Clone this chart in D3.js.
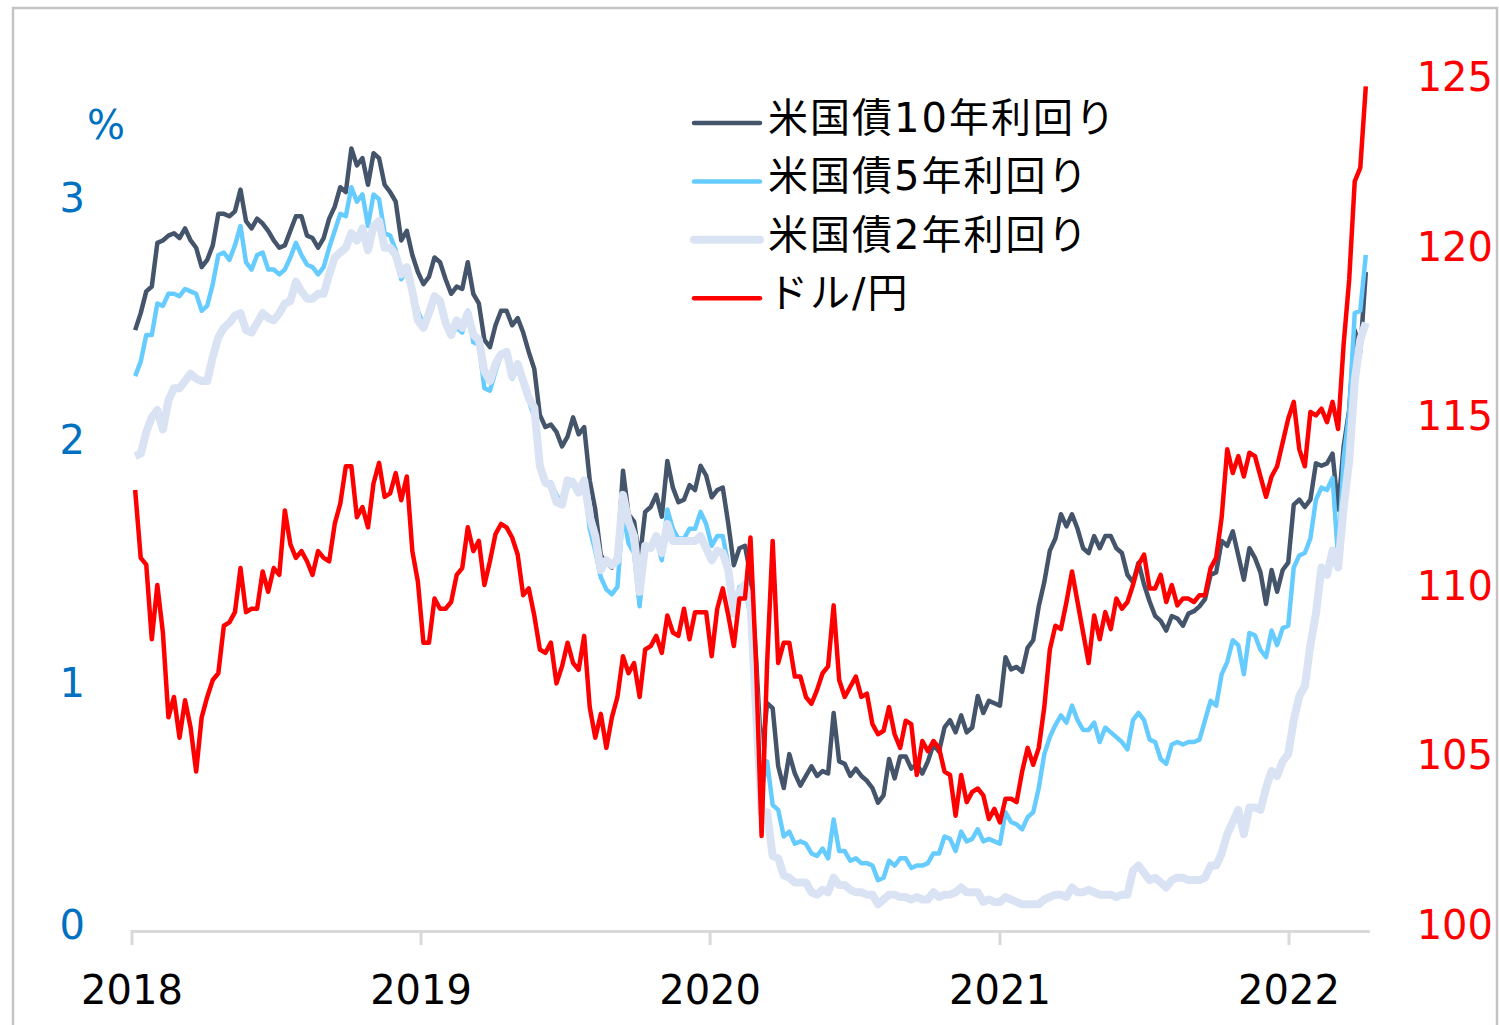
<!DOCTYPE html>
<html>
<head>
<meta charset="utf-8">
<title>米国債利回りとドル/円</title>
<script src="https://d3js.org/d3.v7.min.js"></script>
<style>
body {
	margin: 0;
	background: #fff;
}
.axis-label {
	font-family: "DejaVu Sans", sans-serif;
	font-size: 40px;
}
.legend text {
	font-family: "DejaVu Sans", "Noto Sans CJK JP", sans-serif;
	font-size: 40px;
	letter-spacing: 2px;
	fill: #000;
}
.series {
	fill: none;
	stroke-linejoin: round;
}
</style>
</head>
<body>
<svg id="chart" width="1499" height="1025"></svg>
<script>
// weekly (Friday) readings, 2018-01-05 .. 2022-04-08
var weeks = d3.timeFriday.range(new Date(2018, 0, 1), new Date(2022, 3, 9));

var us10y = [
	2.48, 2.55, 2.64, 2.66, 2.84, 2.85, 2.87, 2.88, 2.86, 2.90, 2.85, 2.82, 2.74, 2.77, 2.83, 2.96, 2.96, 2.95, 2.97, 3.06, 2.93, 2.90, 2.94, 2.92, 2.89, 2.85,
	2.82, 2.83, 2.89, 2.95, 2.95, 2.87, 2.86, 2.82, 2.86, 2.94, 2.99, 3.07, 3.05, 3.23, 3.16, 3.19, 3.08, 3.21, 3.19, 3.08, 3.05, 3.01, 2.85, 2.89, 2.79, 2.72,
	2.67, 2.70, 2.78, 2.76, 2.69, 2.63, 2.66, 2.65, 2.76, 2.63, 2.59, 2.44, 2.41, 2.50, 2.56, 2.56, 2.50, 2.53, 2.47, 2.39, 2.32, 2.13, 2.08, 2.09, 2.06, 2.00,
	2.04, 2.12, 2.05, 2.08, 1.86, 1.74, 1.55, 1.52, 1.50, 1.55, 1.90, 1.72, 1.69, 1.53, 1.73, 1.75, 1.80, 1.71, 1.94, 1.83, 1.77, 1.78, 1.84, 1.82, 1.92, 1.88,
	1.79, 1.82, 1.83, 1.68, 1.51, 1.58, 1.59, 1.47, 1.13, 0.71, 0.94, 0.92, 0.68, 0.59, 0.73, 0.65, 0.60, 0.64, 0.68, 0.64, 0.66, 0.65, 0.90, 0.70, 0.69, 0.64,
	0.67, 0.64, 0.62, 0.59, 0.53, 0.56, 0.71, 0.63, 0.72, 0.72, 0.67, 0.69, 0.65, 0.70, 0.77, 0.74, 0.84, 0.87, 0.82, 0.89, 0.82, 0.84, 0.97, 0.90, 0.95, 0.94,
	0.93, 1.13, 1.08, 1.09, 1.07, 1.17, 1.20, 1.34, 1.44, 1.57, 1.62, 1.72, 1.67, 1.72, 1.66, 1.58, 1.56, 1.63, 1.58, 1.63, 1.63, 1.58, 1.56, 1.47, 1.44, 1.52, 1.43,
	1.36, 1.30, 1.28, 1.24, 1.30, 1.29, 1.26, 1.31, 1.32, 1.34, 1.37, 1.47, 1.48, 1.61, 1.59, 1.65, 1.55, 1.45, 1.58, 1.54, 1.48, 1.35, 1.49, 1.40, 1.49, 1.52,
	1.76, 1.78, 1.75, 1.78, 1.93, 1.92, 1.93, 1.97, 1.74, 2.00, 2.15, 2.48, 2.39, 2.72
];

var us5y = [
	2.29, 2.35, 2.46, 2.46, 2.59, 2.58, 2.63, 2.63, 2.62, 2.65, 2.64, 2.63, 2.56, 2.58, 2.67, 2.79, 2.80, 2.77, 2.83, 2.91, 2.76, 2.73, 2.79, 2.80, 2.73, 2.73,
	2.71, 2.73, 2.78, 2.84, 2.79, 2.75, 2.74, 2.71, 2.74, 2.82, 2.89, 2.96, 2.95, 3.07, 3.01, 3.04, 2.91, 3.04, 3.02, 2.88, 2.87, 2.81, 2.69, 2.73, 2.63, 2.56,
	2.50, 2.55, 2.61, 2.59, 2.51, 2.46, 2.49, 2.47, 2.56, 2.43, 2.42, 2.24, 2.23, 2.31, 2.38, 2.39, 2.28, 2.34, 2.26, 2.19, 2.12, 1.92, 1.85, 1.85, 1.80, 1.76,
	1.83, 1.86, 1.81, 1.85, 1.66, 1.57, 1.46, 1.41, 1.39, 1.42, 1.73, 1.60, 1.56, 1.34, 1.59, 1.58, 1.62, 1.53, 1.74, 1.66, 1.62, 1.62, 1.66, 1.66, 1.73, 1.68,
	1.59, 1.63, 1.63, 1.51, 1.32, 1.42, 1.42, 1.30, 0.89, 0.58, 0.70, 0.52, 0.50, 0.39, 0.41, 0.36, 0.37, 0.36, 0.32, 0.31, 0.34, 0.30, 0.46, 0.33, 0.33, 0.29,
	0.30, 0.28, 0.28, 0.27, 0.21, 0.22, 0.29, 0.27, 0.30, 0.30, 0.26, 0.27, 0.27, 0.28, 0.32, 0.32, 0.39, 0.38, 0.33, 0.41, 0.37, 0.38, 0.42, 0.37, 0.38, 0.37,
	0.36, 0.49, 0.45, 0.44, 0.42, 0.47, 0.49, 0.59, 0.73, 0.80, 0.85, 0.89, 0.86, 0.93, 0.87, 0.83, 0.83, 0.86, 0.78, 0.84, 0.82, 0.80, 0.78, 0.75, 0.87, 0.90, 0.87,
	0.79, 0.78, 0.71, 0.69, 0.77, 0.78, 0.77, 0.78, 0.78, 0.79, 0.87, 0.95, 0.93, 1.06, 1.11, 1.20, 1.18, 1.06, 1.23, 1.22, 1.16, 1.13, 1.24, 1.18, 1.25, 1.26,
	1.50, 1.55, 1.56, 1.62, 1.78, 1.83, 1.82, 1.87, 1.54, 1.95, 2.14, 2.55, 2.56, 2.79
];

var us2y = [
	1.96, 1.97, 2.06, 2.12, 2.15, 2.07, 2.19, 2.24, 2.24, 2.27, 2.30, 2.28, 2.27, 2.27, 2.37, 2.45, 2.49, 2.51, 2.54, 2.55, 2.48, 2.47, 2.51, 2.55, 2.53, 2.52,
	2.55, 2.59, 2.60, 2.68, 2.64, 2.61, 2.61, 2.63, 2.63, 2.71, 2.78, 2.80, 2.82, 2.88, 2.85, 2.90, 2.81, 2.91, 2.93, 2.82, 2.82, 2.79, 2.71, 2.74, 2.64, 2.52,
	2.49, 2.55, 2.62, 2.60, 2.51, 2.46, 2.52, 2.49, 2.55, 2.46, 2.44, 2.31, 2.27, 2.34, 2.38, 2.39, 2.29, 2.34, 2.27, 2.20, 2.16, 1.92, 1.85, 1.84, 1.77, 1.76,
	1.86, 1.85, 1.81, 1.86, 1.71, 1.63, 1.49, 1.53, 1.51, 1.53, 1.80, 1.69, 1.63, 1.40, 1.59, 1.58, 1.63, 1.56, 1.68, 1.61, 1.61, 1.61, 1.61, 1.61, 1.63, 1.58,
	1.53, 1.57, 1.56, 1.49, 1.31, 1.40, 1.43, 1.35, 0.91, 0.49, 0.49, 0.31, 0.30, 0.23, 0.22, 0.20, 0.20, 0.20, 0.16, 0.15, 0.17, 0.16, 0.22, 0.19, 0.19, 0.17,
	0.16, 0.16, 0.15, 0.15, 0.11, 0.13, 0.15, 0.15, 0.14, 0.14, 0.13, 0.14, 0.13, 0.13, 0.16, 0.14, 0.15, 0.15, 0.16, 0.18, 0.16, 0.16, 0.16, 0.12, 0.13, 0.12,
	0.12, 0.14, 0.13, 0.12, 0.11, 0.11, 0.11, 0.11, 0.13, 0.14, 0.15, 0.15, 0.14, 0.18, 0.16, 0.16, 0.17, 0.16, 0.15, 0.15, 0.15, 0.14, 0.15, 0.15, 0.25, 0.27, 0.24,
	0.21, 0.22, 0.20, 0.18, 0.21, 0.22, 0.22, 0.21, 0.21, 0.21, 0.22, 0.27, 0.27, 0.32, 0.40, 0.45, 0.50, 0.40, 0.51, 0.51, 0.50, 0.59, 0.66, 0.64, 0.70, 0.73,
	0.87, 0.97, 1.01, 1.18, 1.31, 1.50, 1.47, 1.57, 1.50, 1.75, 1.94, 2.27, 2.44, 2.51
];

var usdjpy = [
	113.0, 111.0, 110.8, 108.6, 110.2, 108.8, 106.3, 106.9, 105.7, 106.8, 106.0, 104.7, 106.3, 106.9, 107.4, 107.6, 109.0, 109.1, 109.4, 110.7, 109.4, 109.5, 109.5, 110.6, 110.0, 110.7,
	110.5, 112.4, 111.4, 111.0, 111.2, 110.9, 110.5, 111.2, 111.0, 110.9, 112.0, 112.6, 113.7, 113.7, 112.2, 112.5, 111.9, 113.2, 113.8, 112.8, 112.9, 113.5, 112.7, 113.4, 111.2, 110.3,
	108.5, 108.5, 109.8, 109.5, 109.5, 109.7, 110.5, 110.7, 111.9, 111.2, 111.5, 110.2, 110.9, 111.7, 112.0, 111.9, 111.6, 111.1, 109.9, 110.1, 109.3, 108.3, 108.2, 108.5, 107.3, 107.8,
	108.5, 107.9, 107.7, 108.7, 106.6, 105.7, 106.4, 105.4, 106.3, 106.9, 108.1, 107.6, 107.9, 106.9, 108.3, 108.4, 108.7, 108.2, 109.3, 108.8, 108.7, 109.5, 108.6, 109.4, 109.4, 109.4,
	108.1, 109.5, 110.1, 109.3, 108.4, 109.8, 109.8, 111.6, 107.9, 102.8, 107.9, 111.5, 107.9, 108.5, 108.5, 107.5, 107.5, 106.9, 106.7, 107.1, 107.6, 107.8, 109.6, 107.4, 106.9, 107.2,
	107.5, 106.9, 107.0, 106.1, 105.8, 105.9, 106.6, 105.8, 105.4, 106.2, 106.1, 104.6, 105.6, 105.3, 105.6, 105.4, 104.7, 104.6, 103.4, 104.6, 103.8, 104.1, 104.2, 104.0, 103.3, 103.6,
	103.2, 103.9, 103.9, 103.8, 104.7, 105.4, 104.9, 105.4, 106.6, 108.3, 109.0, 108.9, 109.7, 110.6, 109.7, 108.8, 107.9, 109.3, 108.6, 109.4, 108.9, 109.8, 109.5, 109.7, 110.2, 110.8, 111.1,
	110.1, 110.1, 110.5, 109.7, 110.2, 109.6, 109.8, 109.8, 109.7, 109.9, 109.9, 110.7, 111.0, 112.2, 114.2, 113.5, 114.0, 113.4, 114.1, 114.0, 113.4, 112.8, 113.4, 113.7, 114.4, 115.1,
	115.6, 114.2, 113.7, 115.3, 115.2, 115.4, 115.0, 115.6, 114.8, 117.3, 119.2, 122.1, 122.5, 124.9
];

var yearTicks = [2018, 2019, 2020, 2021, 2022];
var leftTicks = [0, 1, 2, 3];
var rightTicks = [100, 105, 110, 115, 120, 125];

var seriesNames = ["米国債10年利回り", "米国債5年利回り", "米国債2年利回り", "ドル/円"];
var seriesColors = ["#44546A", "#66CCFF", "#DAE3F3", "#FF0000"];
var seriesWidths = [4.5, 4.5, 8, 4.5];

var svg = d3.select("#chart");

svg.append("rect")
	.attr("width", 1499).attr("height", 1025)
	.attr("fill", "#fff");

// chart frame
svg.append("rect")
	.attr("x", 13).attr("y", 8)
	.attr("width", 1484).attr("height", 1040)
	.attr("fill", "none")
	.attr("stroke", "#c4c4c4")
	.attr("stroke-width", 2.5);

var x = d3.scaleTime()
	.domain([new Date(2018, 0, 1), new Date(2022, 0, 1)])
	.range([132, 1289]);

var yL = d3.scaleLinear().domain([0, 3.5]).range([931, 83]);
var yR = d3.scaleLinear().domain([100, 125]).range([931, 83]);

// x axis
var xAxis = svg.append("g").attr("class", "x-axis");

xAxis.append("line")
	.attr("x1", x(new Date(2018, 0, 1)))
	.attr("x2", x(new Date(2022, 3, 13)))
	.attr("y1", 931.5).attr("y2", 931.5)
	.attr("stroke", "#d9d9d9")
	.attr("stroke-width", 3);

xAxis.selectAll(".tick")
	.data(yearTicks)
	.enter().append("line")
	.attr("class", "tick")
	.attr("x1", d => x(new Date(d, 0, 1)))
	.attr("x2", d => x(new Date(d, 0, 1)))
	.attr("y1", 930).attr("y2", 945)
	.attr("stroke", "#d9d9d9")
	.attr("stroke-width", 3);

xAxis.selectAll(".axis-label")
	.data(yearTicks)
	.enter().append("text")
	.attr("class", "axis-label")
	.attr("x", d => x(new Date(d, 0, 1)))
	.attr("y", 1004)
	.attr("text-anchor", "middle")
	.attr("fill", "#000")
	.text(d => d);

// left axis labels
svg.append("g").selectAll("text")
	.data(leftTicks)
	.enter().append("text")
	.attr("class", "axis-label")
	.attr("x", 85)
	.attr("y", d => yL(d) + 8)
	.attr("text-anchor", "end")
	.attr("fill", "#0070C0")
	.text(d => d);

svg.append("text")
	.attr("class", "axis-label")
	.attr("x", 87)
	.attr("y", 139)
	.attr("fill", "#0070C0")
	.text("%");

// right axis labels
svg.append("g").selectAll("text")
	.data(rightTicks)
	.enter().append("text")
	.attr("class", "axis-label")
	.attr("x", 1493)
	.attr("y", d => yR(d) + 8)
	.attr("text-anchor", "end")
	.attr("fill", "#FF0000")
	.text(d => d);

// series
var lineL = d3.line()
	.x((d, i) => x(weeks[i]))
	.y(d => yL(d));

var lineR = d3.line()
	.x((d, i) => x(weeks[i]))
	.y(d => yR(d));

var seriesData = [us10y, us5y, us2y, usdjpy];

svg.append("g").selectAll("path")
	.data(seriesData)
	.enter().append("path")
	.attr("class", "series")
	.attr("stroke", (d, i) => seriesColors[i])
	.attr("stroke-width", (d, i) => seriesWidths[i])
	.attr("d", (d, i) => i == 3 ? lineR(d) : lineL(d));

// legend
var legend = svg.append("g").attr("class", "legend");

var item = legend.selectAll("g")
	.data(seriesNames)
	.enter().append("g")
	.attr("transform", (d, i) => "translate(0," + (123 + i * 58.4) + ")");

item.append("line")
	.attr("x1", 694).attr("x2", 760)
	.attr("stroke", (d, i) => seriesColors[i])
	.attr("stroke-width", (d, i) => seriesWidths[i])
	.attr("stroke-linecap", "round");

item.append("text")
	.attr("x", 768)
	.attr("y", 9)
	.text(d => d);
</script>
</body>
</html>
